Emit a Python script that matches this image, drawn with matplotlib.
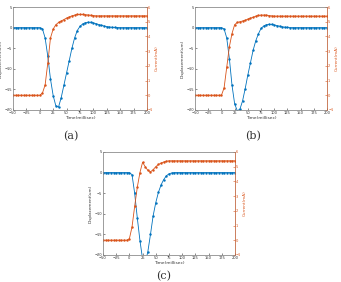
import numpy as np
import matplotlib.pyplot as plt

# time axis (ms)
t = [-50, -45, -40, -35, -30, -25, -20, -15, -10, -5,
     0, 5, 10, 15, 20, 25, 30, 35, 40, 45,
     50, 55, 60, 65, 70, 75, 80, 85, 90, 95,
     100, 105, 110, 115, 120, 125, 130, 135, 140, 145,
     150, 155, 160, 165, 170, 175, 180, 185, 190, 195, 200]

flat = [0] * 10

disp_a = flat + [0, -0.3, -2.5, -7, -12.5, -16.5, -19, -19.3, -17, -14,
                 -11, -8, -5, -2.5, -0.7, 0.3, 0.9, 1.2, 1.3, 1.3,
                 1.15, 0.95, 0.75, 0.55, 0.4, 0.25, 0.15, 0.08, 0.04, 0.02,
                 0, 0, 0, 0, 0, 0, 0, 0, 0, 0, 0]
curr_a = flat + [0, 0.15, 0.7, 2.2, 3.9, 4.5, 4.8, 4.95, 5.05, 5.15,
                 5.25, 5.33, 5.4, 5.45, 5.5, 5.5, 5.5, 5.48, 5.46, 5.44,
                 5.42, 5.4, 5.4, 5.4, 5.4, 5.4, 5.4, 5.4, 5.4, 5.4,
                 5.4, 5.4, 5.4, 5.4, 5.4, 5.4, 5.4, 5.4, 5.4, 5.4, 5.4]

disp_b = flat + [0, -0.3, -2.5, -7.5, -14, -18.5, -20.2, -19.8, -17.8, -14.8,
                 -11.5, -8.5, -5.5, -3.2, -1.5, -0.2, 0.4, 0.7, 0.8, 0.8,
                 0.65, 0.5, 0.35, 0.2, 0.1, 0.05, 0, 0, 0, 0,
                 0, 0, 0, 0, 0, 0, 0, 0, 0, 0, 0]
curr_b = flat + [0, 0.5, 1.9, 3.3, 4.2, 4.8, 4.95, 5.0, 5.05, 5.1,
                 5.18, 5.25, 5.3, 5.38, 5.43, 5.45, 5.45, 5.45, 5.42, 5.4,
                 5.38, 5.38, 5.38, 5.38, 5.38, 5.38, 5.38, 5.38, 5.38, 5.38,
                 5.38, 5.38, 5.38, 5.38, 5.38, 5.38, 5.38, 5.38, 5.38, 5.38, 5.38]

disp_c = flat + [0, -0.5, -5, -11, -16.5, -21, -22, -19.2, -15, -10.5,
                 -7.3, -4.8, -3, -1.7, -0.8, -0.3, -0.1, 0, 0, 0,
                 0, 0, 0, 0, 0, 0, 0, 0, 0, 0,
                 0, 0, 0, 0, 0, 0, 0, 0, 0, 0, 0]
curr_c = flat + [0.1, 0.9, 2.3, 3.6, 4.6, 5.3, 5.0, 4.75, 4.65, 4.8,
                 5.0, 5.15, 5.25, 5.32, 5.37, 5.4, 5.4, 5.4, 5.4, 5.4,
                 5.4, 5.4, 5.4, 5.4, 5.4, 5.4, 5.4, 5.4, 5.4, 5.4,
                 5.4, 5.4, 5.4, 5.4, 5.4, 5.4, 5.4, 5.4, 5.4, 5.4, 5.4]

xticks = [-50, -25, 0, 25, 50, 75, 100, 125, 150, 175, 200]
yticks_l = [-20, -15, -10, -5, 0, 5]
yticks_r = [-1, 0, 1, 2, 3, 4, 5, 6]

blue = '#0072BD'
orange = '#D95319'

fig = plt.figure(figsize=(3.41, 2.82), dpi=100)

# axes rect, data, caption, caption centre (px)
panels = [
    ([0.038, 0.610, 0.393, 0.365], disp_a, curr_a, '(a)', (71, 136)),
    ([0.572, 0.610, 0.387, 0.365], disp_b, curr_b, '(b)', (253, 136)),
    ([0.302, 0.096, 0.387, 0.365], disp_c, curr_c, '(c)', (164, 276)),
]

for rect, d, c, lab, (cx, cy) in panels:
    ax = fig.add_axes(rect)
    ax.plot(t, d, '-', color=blue, lw=0.6, marker='.', ms=1.5)
    ax.set_xlim(-50, 200)
    ax.set_ylim(-20, 5)
    ax.set_xticks(xticks)
    ax.set_yticks(yticks_l)
    ax.tick_params(direction='in', length=1.5, width=0.4, labelsize=2.6, pad=0.8,
                   colors='#333333')
    ax.set_xlabel('Time(millisec)', fontsize=3.2, labelpad=0.5, color='#333333')
    ax.set_ylabel('Displacement(um)', fontsize=3.0, color='#333333')
    # keep the label inside the figure edge
    ax.yaxis.set_label_coords(-0.078, 0.5)
    for s in ax.spines.values():
        s.set_linewidth(0.4)
        s.set_color('#888888')

    ax2 = ax.twinx()
    ax2.plot(t, c, '-', color=orange, lw=0.6, marker='.', ms=1.5)
    ax2.set_ylim(-1, 6)
    ax2.set_yticks(yticks_r)
    ax2.tick_params(direction='in', length=1.5, width=0.4, labelsize=2.6, pad=0.8,
                    colors=orange)
    ax2.set_ylabel('Current(mA)', fontsize=3.0, labelpad=1, color=orange)
    for s in ax2.spines.values():
        s.set_linewidth(0.4)
        s.set_color('#888888')
    ax2.spines['right'].set_color(orange)

    fig.text(cx / 341, 1 - cy / 282, lab, ha='center', va='center',
             fontsize=8, family='DejaVu Serif', color='#333333')

fig.savefig('out.png', dpi=100)
